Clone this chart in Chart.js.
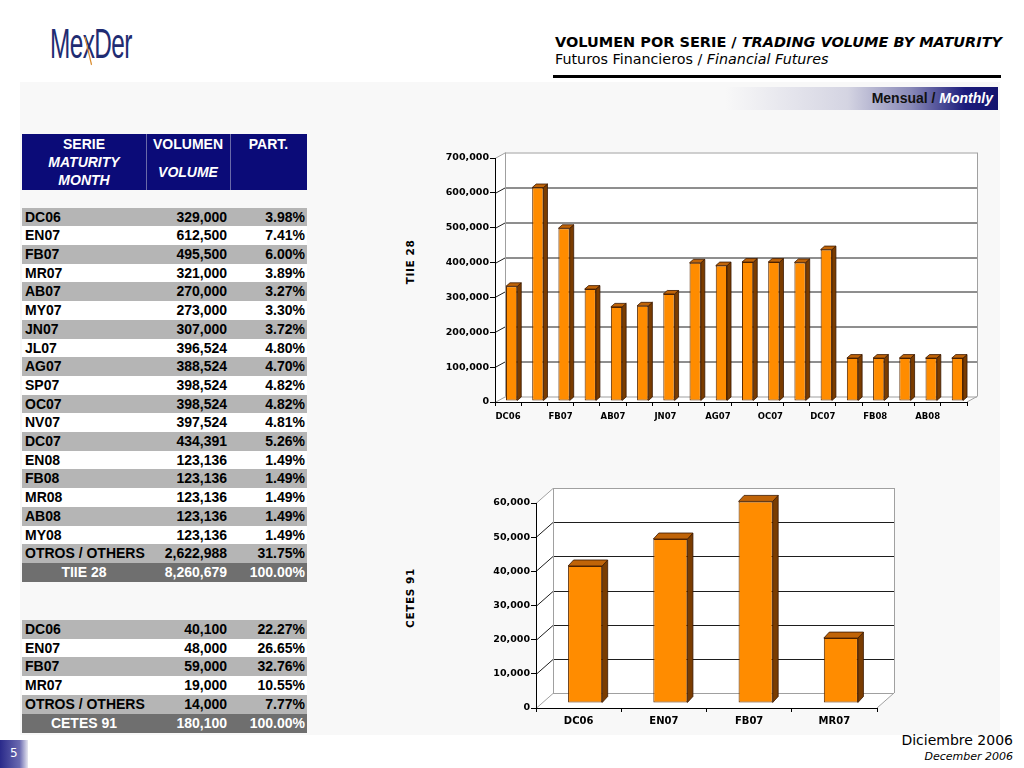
<!DOCTYPE html>
<html>
<head>
<meta charset="utf-8">
<script src="https://cdn.jsdelivr.net/npm/chart.js@4/dist/chart.umd.min.js"></script>
<style>
html,body{margin:0;padding:0;width:1024px;height:768px;overflow:hidden;background:#fff;font-family:"Liberation Sans",Arial,sans-serif;}
.abs{position:absolute;}
#panel{left:20px;top:82px;width:980px;height:653px;background:#f8f8f8;}
#logo{left:50px;top:20px;font-family:"Liberation Sans Narrow","Liberation Sans",Arial,sans-serif;font-size:42px;color:#1f2c72;transform:scaleX(0.58);transform-origin:left top;letter-spacing:-1px;}
#logo .x{color:#1f2c72;position:relative;}
#logo .x:after{content:"";position:absolute;left:9px;top:16px;width:2px;height:30px;background:#d98a2b;transform:rotate(-22deg);}
#title{left:555px;top:34px;font-family:"DejaVu Sans",sans-serif;font-size:14.5px;font-weight:bold;color:#000;white-space:nowrap;}
#subtitle{left:555px;top:51px;font-family:"DejaVu Sans",sans-serif;font-size:14.3px;color:#000;white-space:nowrap;}
#rule{left:553px;top:75px;width:448px;height:3px;background:#000;}
#monthly{left:725px;top:87px;width:273px;height:23px;background:linear-gradient(to right,rgba(235,235,240,0) 0%,#d4d4e2 45%,#8a8ab8 68%,#1c1c7c 88%,#14146e 100%);}
#monthly span{position:absolute;right:5px;top:3px;font-family:"Liberation Sans",Arial,sans-serif;font-weight:bold;font-size:14px;color:#111;white-space:nowrap;}
#monthly i{color:#fff;}
.hdr{left:22px;top:134px;width:285px;height:56px;background:#0b0b78;}
.hdr div{position:absolute;color:#fff;font-weight:bold;font-size:14px;text-align:center;line-height:18px;}
.vline{position:absolute;top:0;width:1px;height:56px;background:#6a6aa8;}
.row{position:absolute;left:22px;width:285px;height:19px;font-size:14px;font-weight:bold;line-height:19px;color:#000;}
.row span{position:absolute;top:0;white-space:nowrap;}
.grey{background:#b5b5b5;}
.white{background:#fff;}
.total{background:#6f6f6f;color:#fff;}
.ylab{position:absolute;width:0;height:0;}
.ylab span{position:absolute;left:0;top:0;transform:translate(-50%,-50%) rotate(-90deg);font-family:"DejaVu Sans",sans-serif;font-weight:bold;font-size:10.5px;letter-spacing:0.6px;white-space:nowrap;color:#000;}
#pg{left:0;top:740px;width:28px;height:28px;background:linear-gradient(to right,#2a2a8a,#6a6ab0 70%,#e6e6f0);color:#fff;font-family:"DejaVu Sans",sans-serif;font-size:12px;line-height:26px;text-indent:10px;}
#foot1{right:11px;top:732px;font-family:"DejaVu Sans",sans-serif;font-size:14px;color:#000;white-space:nowrap;}
#foot2{right:11px;top:750px;font-family:"DejaVu Sans",sans-serif;font-size:11px;font-style:italic;color:#000;white-space:nowrap;}
canvas{position:absolute;}
</style>
</head>
<body>
<div id="panel" class="abs"></div>
<div id="logo" class="abs">Me<span class="x">x</span>Der</div>
<div id="title" class="abs">VOLUMEN POR SERIE / <i>TRADING VOLUME BY MATURITY</i></div>
<div id="subtitle" class="abs">Futuros Financieros / <i>Financial Futures</i></div>
<div id="rule" class="abs"></div>
<div id="monthly" class="abs"><span>Mensual / <i>Monthly</i></span></div>

<div class="hdr abs">
  <div style="left:0;width:124px;top:1px;">SERIE<br><i>MATURITY<br>MONTH</i></div>
  <div style="left:124px;width:84px;top:1px;">VOLUMEN</div>
  <div style="left:124px;width:84px;top:29px;"><i>VOLUME</i></div>
  <div style="left:208px;width:77px;top:1px;">PART.</div>
  <div class="vline" style="left:124px;"></div>
  <div class="vline" style="left:208px;"></div>
</div>
<div id="tables"></div>

<div class="ylab" style="left:410px;top:262px;"><span>TIIE 28</span></div>
<div class="ylab" style="left:410px;top:598px;"><span>CETES 91</span></div>

<canvas id="c1" width="600" height="290" style="left:400px;top:140px;"></canvas>
<canvas id="c2" width="500" height="255" style="left:400px;top:480px;"></canvas>

<div id="pg" class="abs">5</div>
<div id="foot1" class="abs">Diciembre 2006</div>
<div id="foot2" class="abs">December 2006</div>

<script>
// ---------- DATA ----------
const tiieSeries = ['DC06','EN07','FB07','MR07','AB07','MY07','JN07','JL07','AG07','SP07','OC07','NV07','DC07','EN08','FB08','MR08','AB08','MY08'];
const tiieVolume = [329000,612500,495500,321000,270000,273000,307000,396524,388524,398524,398524,397524,434391,123136,123136,123136,123136,123136];
const tiieShare  = ['3.98%','7.41%','6.00%','3.89%','3.27%','3.30%','3.72%','4.80%','4.70%','4.82%','4.82%','4.81%','5.26%','1.49%','1.49%','1.49%','1.49%','1.49%'];
const tiieOthers = [2622988,'31.75%'];
const tiieTotal  = [8260679,'100.00%'];
const tiieYTicks = [0,100000,200000,300000,400000,500000,600000,700000];

const cetesSeries = ['DC06','EN07','FB07','MR07'];
const cetesVolume = [40100,48000,59000,19000];
const cetesShare  = ['22.27%','26.65%','32.76%','10.55%'];
const cetesOthers = [14000,'7.77%'];
const cetesTotal  = [180100,'100.00%'];
const cetesYTicks = [0,10000,20000,30000,40000,50000,60000];

const othersLabel = 'OTROS / OTHERS';
const fmt = v => Number(v).toLocaleString('en-US');

// ---------- TABLES ----------
function buildTable(top, series, vols, shares, others, totalLabel, total){
  const host = document.getElementById('tables');
  const rows = series.map((s,i)=>({l:s,v:vols[i],p:shares[i]}));
  rows.push({l:othersLabel,v:others[0],p:others[1]});
  rows.forEach((r,i)=>{
    const d=document.createElement('div');
    d.className='row '+(i%2===0?'grey':'white');
    d.style.top=(top+i*18.7).toFixed(1)+'px';
    d.innerHTML='<span style="left:3px">'+r.l+'</span><span style="right:80px">'+fmt(r.v)+'</span><span style="right:2px">'+r.p+'</span>';
    host.appendChild(d);
  });
  const t=document.createElement('div');
  t.className='row total';
  t.style.top=(top+rows.length*18.7).toFixed(1)+'px';
  t.innerHTML='<span style="left:0;width:124px;text-align:center">'+totalLabel+'</span><span style="right:80px">'+fmt(total[0])+'</span><span style="right:2px">'+total[1]+'</span>';
  host.appendChild(t);
}
buildTable(207.6, tiieSeries, tiieVolume, tiieShare, tiieOthers, 'TIIE 28', tiieTotal);
buildTable(620, cetesSeries, cetesVolume, cetesShare, cetesOthers, 'CETES 91', cetesTotal);

// ---------- 3D PLUGIN ----------
function poly(ctx, pts){ctx.beginPath();ctx.moveTo(pts[0][0],pts[0][1]);for(let i=1;i<pts.length;i++)ctx.lineTo(pts[i][0],pts[i][1]);ctx.closePath();}
const threeD = {
  id:'threeD',
  beforeDraw(chart, args, o){
    const ctx=chart.ctx, a=chart.chartArea, y=chart.scales.y;
    const dx=o.dx, dy=o.dy;
    ctx.save();
    ctx.fillStyle='#ffffff';
    poly(ctx,[[a.left,a.top],[a.left+dx,a.top+dy],[a.left+dx,a.bottom+dy],[a.left,a.bottom]]); ctx.fill();
    poly(ctx,[[a.left,a.bottom],[a.right,a.bottom],[a.right+dx,a.bottom+dy],[a.left+dx,a.bottom+dy]]); ctx.fill();
    ctx.fillRect(a.left+dx,a.top+dy,a.right-a.left,a.bottom-a.top);
    ctx.lineWidth=1;
    y.ticks.forEach(t=>{
      const py=Math.round(y.getPixelForValue(t.value))+0.5;
      const edge=(t.value===y.max||t.value===y.min);
      ctx.strokeStyle=edge?'#a0a0a0':'#1e1e1e';
      ctx.beginPath();ctx.moveTo(a.left,py);ctx.lineTo(a.left+dx,py+dy);ctx.lineTo(a.right+dx,py+dy);ctx.stroke();
    });
    ctx.strokeStyle='#a0a0a0';
    ctx.beginPath();
    ctx.moveTo(Math.round(a.left+dx)+0.5,a.top+dy);ctx.lineTo(Math.round(a.left+dx)+0.5,a.bottom+dy);
    ctx.moveTo(Math.round(a.right+dx)+0.5,a.top+dy);ctx.lineTo(Math.round(a.right+dx)+0.5,a.bottom+dy);
    ctx.moveTo(a.right,a.bottom);ctx.lineTo(a.right+dx,a.bottom+dy);
    ctx.stroke();
    ctx.restore();
  },
  beforeDatasetsDraw(chart,args,o){chart.ctx.save();chart.ctx.translate(o.bx,o.by);},
  afterDatasetsDraw(chart,args,o){
    const ctx=chart.ctx;
    chart.getDatasetMeta(0).data.forEach(b=>{
      const p=b.getProps(['x','y','base','width'],true);
      const l=p.x-p.width/2, r=p.x+p.width/2, t=p.y, bt=p.base;
      ctx.lineWidth=0.8; ctx.strokeStyle=o.edge;
      ctx.fillStyle=o.side; poly(ctx,[[r,t],[r+o.sx,t+o.sy],[r+o.sx,bt+o.sy],[r,bt]]); ctx.fill(); ctx.stroke();
      ctx.fillStyle=o.top; poly(ctx,[[l,t],[l+o.sx,t+o.sy],[r+o.sx,t+o.sy],[r,t]]); ctx.fill(); ctx.stroke();
    });
    ctx.restore();
  }
};

function makeChart(id, labels, values, yTicks, opt){
  return new Chart(document.getElementById(id),{
    type:'bar',
    data:{labels:labels,datasets:[{data:values,backgroundColor:'#ff8c00',borderColor:'#5a2a00',borderWidth:1,borderSkipped:false,barPercentage:opt.barPct,categoryPercentage:1,clip:false}]},
    options:{
      responsive:false,animation:false,
      layout:{padding:{top:opt.padTop,right:opt.padRight,left:0,bottom:0}},
      plugins:{legend:{display:false},tooltip:{enabled:false},threeD:opt.d3},
      scales:{
        x:{
          grid:{drawOnChartArea:false,drawTicks:true,tickLength:4,color:'#000',offset:true},
          border:{display:true,color:'#000',width:1},
          ticks:{autoSkip:false,maxRotation:0,padding:opt.xPad,color:'#000',font:{family:'DejaVu Sans',weight:'bold',size:opt.xFont},
            callback:function(v,i){return (i%opt.every===0)?this.getLabelForValue(v):'';}},
          afterFit(s){s.height=opt.xH;}
        },
        y:{
          min:yTicks[0],max:yTicks[yTicks.length-1],
          afterBuildTicks(s){s.ticks=yTicks.map(v=>({value:v}));},
          grid:{drawOnChartArea:false,drawTicks:true,tickLength:5,color:'#000'},
          border:{display:true,color:'#000',width:1},
          ticks:{padding:1,color:'#000',font:{family:'DejaVu Sans',weight:'bold',size:9.5},callback:v=>fmt(v)},
          afterFit(s){s.width=opt.yW;}
        }
      }
    },
    plugins:[threeD]
  });
}

makeChart('c1', tiieSeries, tiieVolume, tiieYTicks, {
  barPct:0.43, padTop:18, padRight:33, xH:28, yW:95, xFont:8.5, xPad:6, every:2,
  d3:{dx:10,dy:-5.5,bx:3.5,by:-1,sx:4,sy:-3.5,side:'#7a3c00',top:'#c06408',edge:'#3a1800'}
});
makeChart('c2', cetesSeries, cetesVolume, cetesYTicks, {
  barPct:0.4, padTop:23, padRight:23, xH:27, yW:136, xFont:10, xPad:3, every:1,
  d3:{dx:17,dy:-15,bx:6.5,by:-5,sx:5.5,sy:-6,side:'#7a3c00',top:'#c06408',edge:'#3a1800'}
});
</script>
</body>
</html>
